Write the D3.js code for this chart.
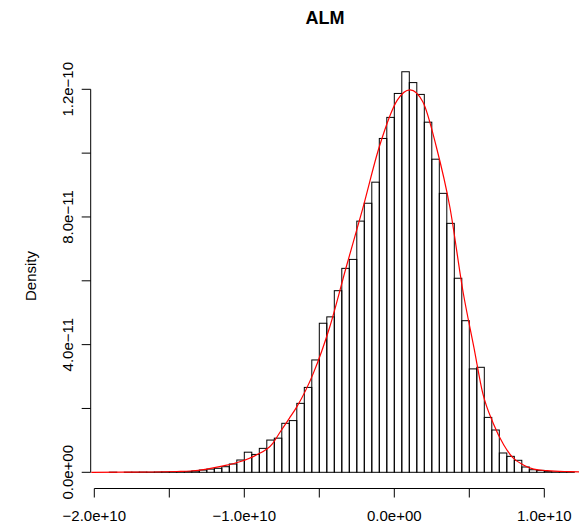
<!DOCTYPE html>
<html>
<head>
<meta charset="utf-8">
<script src="https://cdn.jsdelivr.net/npm/d3@7"></script>
<style>
  html, body { margin: 0; padding: 0; background: #fff; }
  svg { display: block; font-family: "Liberation Sans", Arial, Helvetica, sans-serif; }
</style>
</head>
<body>
<svg id="chart" width="579" height="532"></svg>
<script>
// histogram breaks (x in units of 1e9)
var breaks = [-19, -18.5, -18, -17.5, -17, -16.5, -16, -15.5, -15, -14.5, -14, -13.5,
  -13, -12.5, -12, -11.5, -11, -10.5, -10, -9.5, -9, -8.5, -8, -7.5, -7, -6.5,
  -6, -5.5, -5, -4.5, -4, -3.5, -3, -2.5, -2, -1.5, -1, -0.5, 0, 0.5, 1, 1.5,
  2, 2.5, 3, 3.5, 4, 4.5, 5, 5.5, 6, 6.5, 7, 7.5, 8, 8.5, 9, 9.5, 10, 10.5, 11, 11.5, 12];

// bar densities (units of 1e-11)
var densities = [0.003, 0, 0.003, 0.003, 0.006, 0.003, 0.008, 0.01, 0.012, 0.015, 0.02, 0.04,
  0.07, 0.10, 0.125, 0.175, 0.26, 0.385, 0.63, 0.56, 0.75, 1.01, 1.07, 1.535, 1.62, 2.16,
  2.66, 3.52, 4.67, 4.87, 5.69, 6.39, 6.67, 7.87, 8.43, 9.09, 10.46, 11.12, 11.87, 12.55, 12.21, 11.84,
  10.97, 9.81, 8.74, 7.80, 6.08, 4.75, 3.24, 3.29, 1.72, 1.325, 0.605, 0.50, 0.376, 0.166,
  0.08, 0.06, 0.02, 0.01, 0.005, 0.003];

// kernel density curve
var curveX = [-20.2, -18, -16, -14.5, -13.6, -12.5, -11.4, -10.3, -9.2, -8.1, -7.6, -7.0, -6.5,
  -5.4, -4.3, -3.2, -2.1, -1.0, 0.2, 1.05, 1.9, 2.8, 3.7, 4.6, 5.3, 5.9, 6.6, 7.3, 7.9,
  8.6, 9.3, 10.2, 11.7, 13.0];
var curveY = [0.0, 0.003, 0.01, 0.025, 0.04, 0.1, 0.2, 0.33, 0.54, 0.91, 1.27, 1.69, 2.05,
  3.1, 4.56, 6.44, 8.27, 10.2, 11.66, 11.98, 11.61, 10.2, 8.32, 5.61, 3.93, 2.47, 1.53, 0.855, 0.46,
  0.23, 0.10, 0.05, 0.02, 0.005];

var xTicks = [-20, -15, -10, -5, 0, 5, 10];
var xLabels = [{v: -20, t: "\u22122.0e+10"}, {v: -10, t: "\u22121.0e+10"}, {v: 0, t: "0.0e+00"}, {v: 10, t: "1.0e+10"}];
var yTicks = [0, 2, 4, 6, 8, 10, 12];
var yLabels = [{v: 0, t: "0.0e+00"}, {v: 4, t: "4.0e\u221211"}, {v: 8, t: "8.0e\u221211"}, {v: 12, t: "1.2e\u221210"}];

var svg = d3.select('#chart');

var x = d3.scaleLinear().domain([-20, 10]).range([94.3, 544.3]);
var y = d3.scaleLinear().domain([0, 12]).range([472.3, 89.3]);

var axisLeftX = 90.7;
var axisBottomY = 488.5;

svg.append('rect').attr('width', 579).attr('height', 532).attr('fill', '#fff');

// bars
var bins = densities.map(function(d, i) { return {x0: breaks[i], x1: breaks[i + 1], d: d}; });
svg.append('g')
    .selectAll('rect')
    .data(bins)
    .enter().append('rect')
    .attr('x', function(b) { return x(b.x0); })
    .attr('y', function(b) { return y(b.d); })
    .attr('width', function(b) { return x(b.x1) - x(b.x0); })
    .attr('height', function(b) { return y(0) - y(b.d); })
    .attr('fill', 'none')
    .attr('stroke', '#000')
    .attr('stroke-width', 1);

// density line
var pts = curveX.map(function(v, i) { return [v, curveY[i]]; });
svg.append('path')
    .datum(pts)
    .attr('d', d3.line()
        .x(function(p) { return x(p[0]); })
        .y(function(p) { return y(p[1]); })
        .curve(d3.curveMonotoneX))
    .attr('fill', 'none')
    .attr('stroke', '#ff0000')
    .attr('stroke-width', 1.2);

// x axis
var gx = svg.append('g');
gx.append('line')
    .attr('x1', x(xTicks[0])).attr('x2', x(xTicks[xTicks.length - 1]))
    .attr('y1', axisBottomY).attr('y2', axisBottomY)
    .attr('stroke', '#000');
gx.selectAll('line.tick')
    .data(xTicks)
    .enter().append('line')
    .attr('class', 'tick')
    .attr('x1', function(d) { return x(d); }).attr('x2', function(d) { return x(d); })
    .attr('y1', axisBottomY).attr('y2', axisBottomY + 9)
    .attr('stroke', '#000');
gx.selectAll('text')
    .data(xLabels)
    .enter().append('text')
    .attr('x', function(d) { return x(d.v); })
    .attr('y', 521)
    .attr('text-anchor', 'middle')
    .attr('font-size', 15)
    .text(function(d) { return d.t; });

// y axis
var gy = svg.append('g');
gy.append('line')
    .attr('x1', axisLeftX).attr('x2', axisLeftX)
    .attr('y1', y(yTicks[0])).attr('y2', y(yTicks[yTicks.length - 1]))
    .attr('stroke', '#000');
gy.selectAll('line.tick')
    .data(yTicks)
    .enter().append('line')
    .attr('class', 'tick')
    .attr('x1', axisLeftX - 9).attr('x2', axisLeftX)
    .attr('y1', function(d) { return y(d); }).attr('y2', function(d) { return y(d); })
    .attr('stroke', '#000');
gy.selectAll('text')
    .data(yLabels)
    .enter().append('text')
    .attr('transform', function(d) { return 'translate(73,' + y(d.v) + ') rotate(-90)'; })
    .attr('text-anchor', 'middle')
    .attr('font-size', 15)
    .text(function(d) { return d.t; });

// labels
svg.append('text')
    .attr('transform', 'translate(36,276) rotate(-90)')
    .attr('text-anchor', 'middle')
    .attr('font-size', 15)
    .text('Density');

svg.append('text')
    .attr('x', 325)
    .attr('y', 24)
    .attr('text-anchor', 'middle')
    .attr('font-size', 18)
    .attr('font-weight', 'bold')
    .text('ALM');
</script>
</body>
</html>
